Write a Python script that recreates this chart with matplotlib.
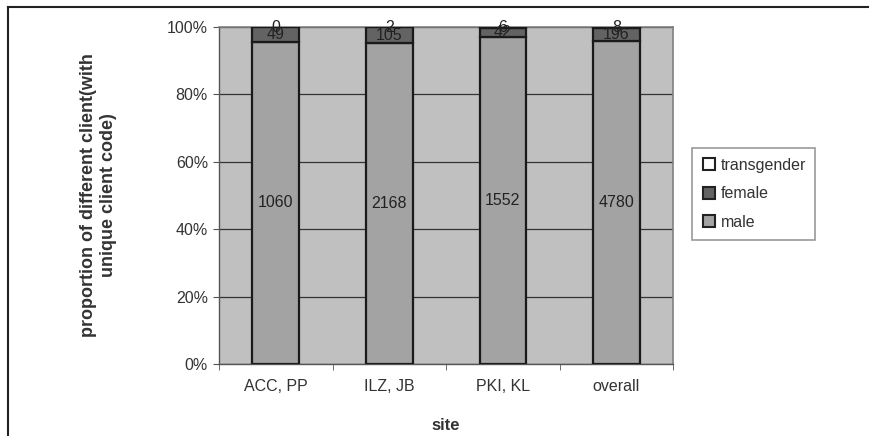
import matplotlib.pyplot as plt
import numpy as np
from matplotlib.lines import Line2D

plt.rcParams['font.family'] = ['Liberation Sans', 'DejaVu Sans']

sites = ["ACC, PP", "ILZ, JB", "PKI, KL", "overall"]
male = [1060, 2168, 1552, 4780]
female = [49, 105, 42, 196]
transgender = [0, 2, 6, 8]

series = [("male", male, "#a3a3a3"),
          ("female", female, "#636363"),
          ("transgender", transgender, "#ffffff")]

fs = 11.5
fig = plt.figure(figsize=(8.69, 4.36), dpi=100)
ax = fig.add_axes([0.252, 0.165, 0.5225, 0.773])
ax.set_facecolor("#c0c0c0")

totals = np.array(male) + np.array(female) + np.array(transgender)
x = np.arange(len(sites))
bottom = np.zeros(len(sites))
for name, vals, color in series:
    frac = np.array(vals) / totals
    ax.bar(x, frac, 0.41, bottom=bottom, color=color, edgecolor="#1a1a1a",
           linewidth=1.6, zorder=3, label=name)
    for xi, b, f, v in zip(x, bottom, frac, vals):
        ax.text(xi, b + f / 2, str(v), ha="center", va="center",
                fontsize=fs, color="#222222", zorder=4)
    bottom += frac

ax.set_xlim(-0.5, len(sites) - 0.5)
ax.set_ylim(0, 1)
ax.set_yticks(np.linspace(0, 1, 6))
ax.set_yticklabels([f"{int(v)}%" for v in np.linspace(0, 100, 6)])
ax.set_xticks(x)
ax.set_xticklabels(sites)
ax.set_xticks(np.arange(-0.5, len(sites), 1), minor=True)
ax.tick_params(axis="x", which="major", length=0, pad=11, labelsize=fs,
               labelcolor="#333333")
ax.tick_params(axis="x", which="minor", length=4, color="#555555")
ax.tick_params(axis="y", length=4, color="#555555", labelsize=fs,
               labelcolor="#333333", pad=4)
ax.yaxis.grid(True, color="#333333", linewidth=0.9, zorder=1)
for side in ["top", "right"]:
    ax.spines[side].set_color("#808080")
    ax.spines[side].set_linewidth(1.2)
for side in ["left", "bottom"]:
    ax.spines[side].set_color("#555555")
    ax.spines[side].set_linewidth(1.0)

ax.set_ylabel("proportion of different client(with\nunique client code)",
              fontsize=13, fontweight="bold", color="#333333", labelpad=36)
ax.set_xlabel("site", fontsize=12, fontweight="bold", color="#333333",
              labelpad=17)

# legend in reverse stacking order
handles = []
for name, vals, color in reversed(series):
    handles.append(Line2D([], [], marker="s", linestyle="none",
                          markerfacecolor=color, markeredgecolor="#222222",
                          markeredgewidth=1.5, markersize=8, label=name))
leg = fig.legend(handles=handles, loc="upper left",
                 bbox_to_anchor=(0.796, 0.66), borderaxespad=0, fontsize=fs,
                 frameon=True, fancybox=False, handletextpad=0.2,
                 labelspacing=0.85, borderpad=0.6, handlelength=1.0)
leg.get_frame().set_edgecolor("#808080")
leg.get_frame().set_linewidth(1.2)
for t in leg.get_texts():
    t.set_color("#333333")

# outer frame lines
fig.add_artist(Line2D([0.009, 1.0], [0.984, 0.984], color="#222222",
                      linewidth=1.5, transform=fig.transFigure))
fig.add_artist(Line2D([0.009, 0.009], [0.0, 0.984], color="#222222",
                      linewidth=1.5, transform=fig.transFigure))

fig.savefig("out.png", dpi=100)
